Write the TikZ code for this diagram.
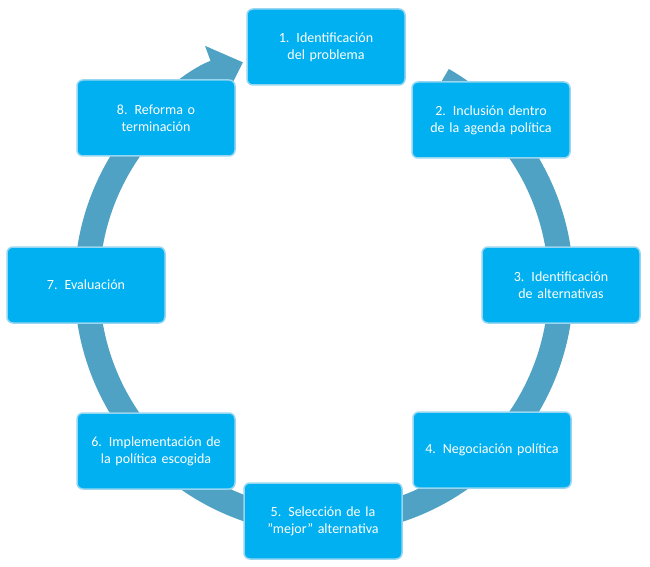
\documentclass[tikz,border=0pt]{standalone}
\usepackage{fontspec}
\setmainfont{Carlito}
\usetikzlibrary{arrows.meta,calc}
\definecolor{stepfill}{RGB}{0,176,240}
\definecolor{stepline}{RGB}{150,214,240}
\definecolor{ringcol}{RGB}{80,162,196}
\begin{document}
\begin{tikzpicture}[
  x=1pt, y=1pt,
  stagebox/.style={rectangle, draw=stepline, line width=1.5pt, fill=stepfill, rounded corners=6pt, minimum width=158pt, minimum height=76pt, text width=140pt, align=center, text=white, font=\fontsize{14}{17}\selectfont},
  ring/.style={line width=25pt, draw=ringcol, -{Triangle[width=55pt,length=30pt]}}
]
\useasboundingbox (0,0) rectangle (650,566);

% Cycle ring
\draw[ring] ($(324,281)+(60:237)$) arc[start angle=60, end angle=-250, radius=237];

% Steps
\node[stagebox] (ident) at (326,519) {1. Identificación del problema};
\node[stagebox] (agenda) at (491,446) {2. Inclusión dentro de la agenda política};
\node[stagebox] (alts) at (561,281) {3. Identificación de alternativas};
\node[stagebox] (negoc) at (492,116) {4. Negociación política};
\node[stagebox] (select) at (323,45) {5. Selección de la "mejor" alternativa};
\node[stagebox] (implem) at (156,115) {6. Implementación de la política escogida};
\node[stagebox] (eval) at (86,281) {7. Evaluación};
\node[stagebox] (reform) at (156,448) {8. Reforma o terminación};
\end{tikzpicture}
\end{document}
